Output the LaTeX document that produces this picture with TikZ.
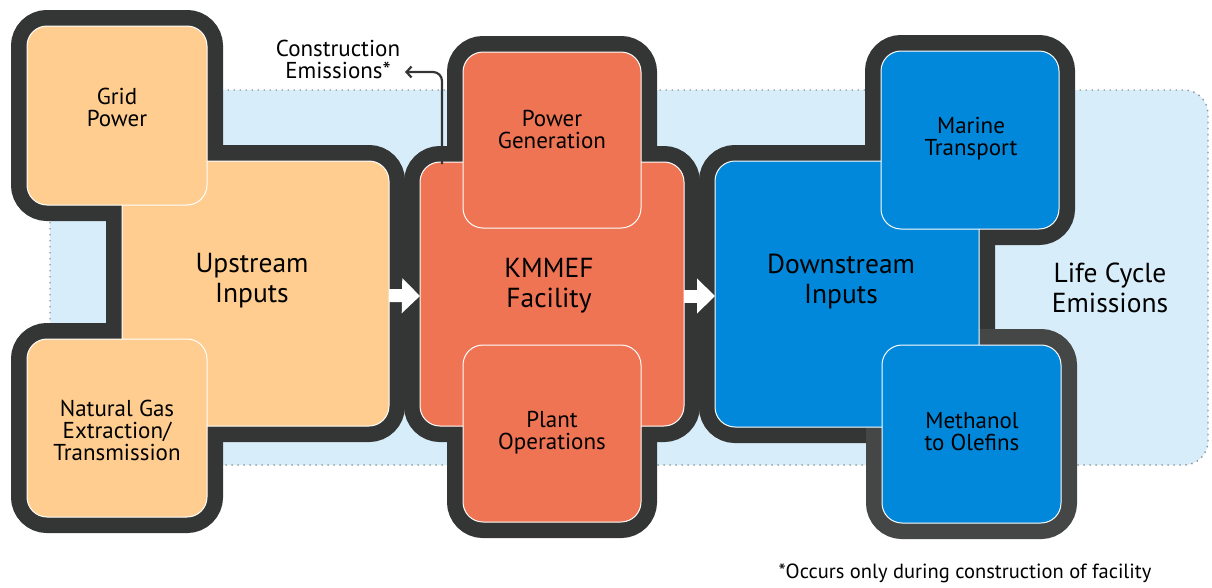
\documentclass[tikz,border=0pt]{standalone}
\usepackage{fontspec}
\setmainfont{PT Sans}
\usetikzlibrary{arrows.meta}
\definecolor{frame}{HTML}{343535}
\definecolor{framelt}{HTML}{454646}
\definecolor{upfill}{HTML}{FECD8F}
\definecolor{facfill}{HTML}{EF7453}
\definecolor{downfill}{HTML}{0188DB}
\definecolor{lcfill}{HTML}{D8EDFA}
\definecolor{dotgray}{HTML}{8E9296}
\pgfdeclarelayer{back}
\pgfdeclarelayer{frames}
\pgfsetlayers{back,frames,main}
\tikzset{
  box/.style={draw=white, line width=1pt, rounded corners=20pt, inner sep=0pt, outer sep=0pt},
  upbox/.style={box, fill=upfill},
  facbox/.style={box, fill=facfill},
  downbox/.style={box, fill=downfill},
  rim/.style={draw=#1, line width=32pt, rounded corners=20pt},
  rim/.default=frame,
  small/.style={align=center, font=\fontsize{23}{22}\selectfont, inner sep=0pt},
  big/.style={align=center, font=\fontsize{27.5}{30}\selectfont, inner sep=0pt},
  flow/.style={white, line width=13pt, -{Triangle[length=18pt, width=34pt]}},
  conn/.style={draw=frame, line width=2.2pt, rounded corners=9pt, -{Straight Barb[length=5pt, width=11pt]}},
}
\begin{document}
\begin{tikzpicture}[x=1pt, y=-1pt]
\useasboundingbox (0,0) rectangle (1212,587);

% life cycle boundary
\begin{pgfonlayer}{back}
  \path[fill=lcfill, draw=dotgray, line width=1.4pt, dash pattern=on 1.4pt off 4.6pt, rounded corners=24pt]
    (50,90) rectangle (1208,465);
\end{pgfonlayer}

% upstream group
\node[upbox, minimum width=267, minimum height=265] (up)   at (255.5,293.5) {};
\node[upbox, minimum width=180, minimum height=179] (grid) at (117,115.5) {};
\node[upbox, minimum width=180, minimum height=178] (ng)   at (117,428) {};

% facility group
\node[facbox, minimum width=264, minimum height=264] (fac) at (552,294) {};
\node[facbox, minimum width=178, minimum height=176] (pg)  at (552,140) {};
\node[facbox, minimum width=178, minimum height=177] (po)  at (552,433.5) {};

% downstream group
\node[downbox, minimum width=264, minimum height=266] (down) at (847,294) {};
\node[downbox, minimum width=178, minimum height=178] (mt)   at (970,140) {};
\node[downbox, minimum width=179, minimum height=178] (mo)   at (971.5,434) {};

% dark rims around every box
\begin{pgfonlayer}{frames}
  \foreach \b in {up,grid,ng,fac,pg,po,down,mt}
    \draw[rim] (\b.south west) rectangle (\b.north east);
  \draw[rim=framelt] (mo.south west) rectangle (mo.north east);
\end{pgfonlayer}

% labels
\node[small] at (117,107) {Grid\\Power};
\node[big]   at (252,281) {Upstream\\Inputs};
\node[small] at (117,430) {Natural Gas\\Extraction/\\Transmission};
\node[small] at (552,129) {Power\\Generation};
\node[big]   at (549,286) {KMMEF\\Facility};
\node[small] at (552,433) {Plant\\Operations};
\node[small] at (971,139) {Marine\\Transport};
\node[big]   at (841,282) {Downstream\\Inputs};
\node[small] at (972,432) {Methanol\\to Olefins};
\node[big]   at (1110,288) {Life Cycle\\Emissions};
\node[small] (cons) at (338,59) {Construction\\Emissions*};
\node[small, anchor=south, font=\fontsize{20.5}{22}\selectfont] (note) at (965,583) {*Occurs only during construction of facility};

% flow arrows
\draw[flow] ([yshift=-2pt]up.east) -- ([yshift=-2pt]fac.west);
\draw[flow] ([yshift=-2pt]fac.east) -- ([yshift=-2pt]down.west);

% construction emissions pointer
\coordinate (ce) at (405,72);
\draw[conn] ([xshift=22pt,yshift=-2pt]fac.north west) |- (ce);
\end{tikzpicture}
\end{document}
